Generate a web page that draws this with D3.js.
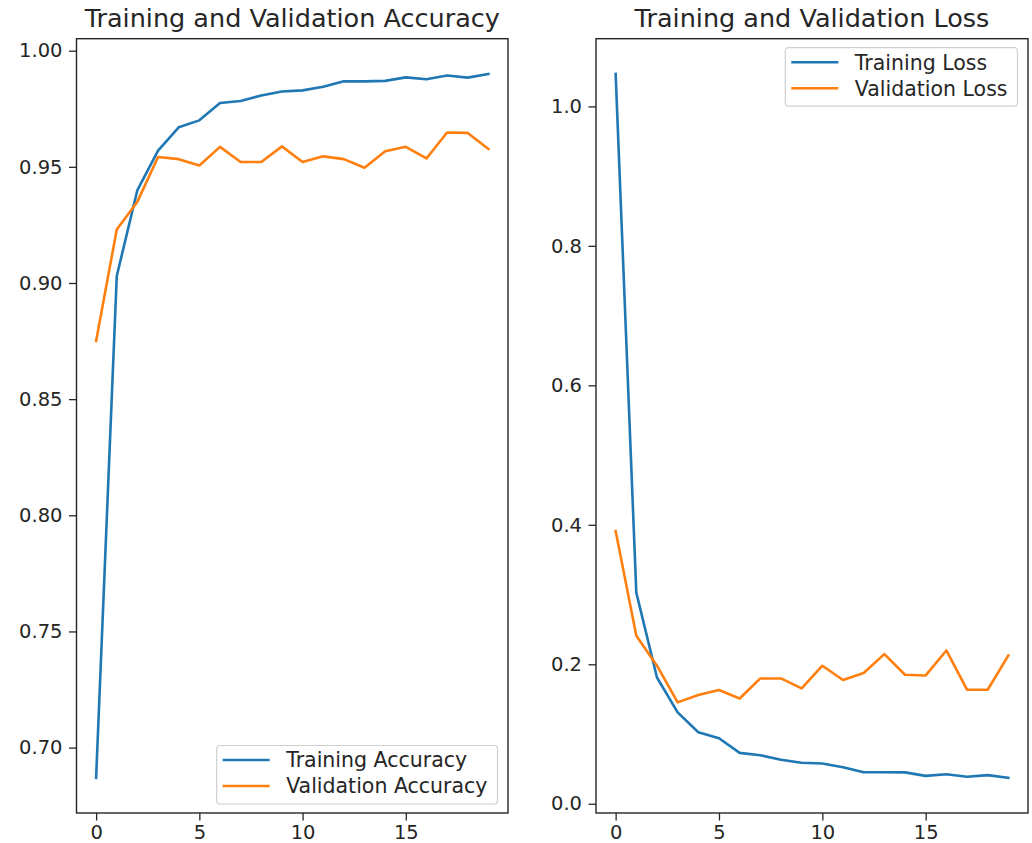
<!DOCTYPE html>
<html>
<head>
<meta charset="utf-8">
<script src="https://cdn.jsdelivr.net/npm/d3@7"></script>
<style>
    body { margin: 0; background: #fff; }
    svg text { font-family: "DejaVu Sans", sans-serif; fill: #262626; }
</style>
</head>
<body>
<div id="chart"></div>
<script>

// epochs and training history
var epochs = d3.range(0, 20);

var trainAcc = [0.687, 0.903, 0.940, 0.957, 0.967, 0.970, 0.9775, 0.9783, 0.9807, 0.9824,
    0.9829, 0.9845, 0.9868, 0.9868, 0.9870, 0.9885, 0.9877, 0.9893, 0.9884, 0.9900];
var valAcc = [0.875, 0.923, 0.935, 0.9542, 0.9533, 0.9506, 0.9586, 0.9521, 0.9521, 0.9588,
    0.9521, 0.9545, 0.9533, 0.9496, 0.9567, 0.9586, 0.9536, 0.9648, 0.9646, 0.9577];

var trainLoss = [1.0466, 0.3027, 0.181, 0.131, 0.1025, 0.0939, 0.073, 0.0696, 0.063, 0.0587,
    0.0577, 0.0524, 0.0452, 0.0452, 0.045, 0.040, 0.0424, 0.0386, 0.041, 0.0372];
var valLoss = [0.391, 0.2408, 0.198, 0.1454, 0.156, 0.163, 0.151, 0.1797, 0.1797, 0.1654,
    0.1979, 0.1774, 0.1874, 0.2146, 0.185, 0.184, 0.2198, 0.1635, 0.1635, 0.2126];

var xTicks = [0, 5, 10, 15];
var accTicks = [0.70, 0.75, 0.80, 0.85, 0.90, 0.95, 1.00];
var lossTicks = [0.0, 0.2, 0.4, 0.6, 0.8, 1.0];

var colors = { train: "#1f77b4", val: "#ff7f0e" };

var svg = d3.select("#chart").append("svg")
    .attr("width", 1032)
    .attr("height", 843);

// matplotlib style 5% padding on the data range
function padded(lo, hi) {
    var m = (hi - lo) * 0.05;
    return [lo - m, hi + m];
}

function drawPanel(opts) {

    var x = d3.scaleLinear()
        .domain(padded(0, epochs.length - 1))
        .range([opts.left, opts.right]);

    var all = opts.series[0].values.concat(opts.series[1].values);
    var y = d3.scaleLinear()
        .domain(padded(d3.min(all), d3.max(all)))
        .range([opts.bottom, opts.top]);

    var g = svg.append("g");

    // lines
    var line = d3.line()
        .x(function(d, i) { return x(epochs[i]); })
        .y(function(d) { return y(d); });

    opts.series.forEach(function(s) {
        g.append("path")
            .datum(s.values)
            .attr("fill", "none")
            .attr("stroke", s.color)
            .attr("stroke-width", 2.6)
            .attr("stroke-linejoin", "round")
            .attr("stroke-linecap", "square")
            .attr("d", line);
    });

    // axes
    var xAxis = g.append("g")
        .attr("transform", "translate(0," + opts.bottom + ")")
        .call(d3.axisBottom(x).tickValues(xTicks).tickSize(7.5).tickPadding(4.5).tickFormat(d3.format("d")));

    var yAxis = g.append("g")
        .attr("transform", "translate(" + opts.left + ",0)")
        .call(d3.axisLeft(y).tickValues(opts.yTicks).tickSize(7.5).tickPadding(6.5).tickFormat(d3.format(opts.yFormat)));

    [xAxis, yAxis].forEach(function(a) {
        a.select(".domain").remove();
        a.selectAll(".tick line").attr("stroke", "#262626").attr("stroke-width", 1.3);
        a.selectAll(".tick text")
            .attr("fill", "#262626")
            .style("font-size", "19.5px");
    });

    // frame
    g.append("rect")
        .attr("x", opts.left)
        .attr("y", opts.top)
        .attr("width", opts.right - opts.left)
        .attr("height", opts.bottom - opts.top)
        .attr("fill", "none")
        .attr("stroke", "#262626")
        .attr("stroke-width", 1.4);

    // title
    g.append("text")
        .attr("x", (opts.left + opts.right) / 2)
        .attr("y", opts.top - 11.5)
        .attr("text-anchor", "middle")
        .style("font-size", "25.5px")
        .text(opts.title);

    // legend
    var leg = g.append("g");
    var box = leg.append("rect")
        .attr("fill", "#fff")
        .attr("fill-opacity", 0.8)
        .attr("stroke", "#d0d0d0")
        .attr("stroke-width", 1.2)
        .attr("rx", 3);

    var maxLen = 0;
    opts.series.forEach(function(s, i) {
        var cy = 14.5 + i * 26;
        leg.append("line")
            .attr("x1", 6).attr("x2", 53)
            .attr("y1", cy).attr("y2", cy)
            .attr("stroke", s.color)
            .attr("stroke-width", 2.6);
        var t = leg.append("text")
            .attr("x", 69.5)
            .attr("y", cy)
            .attr("dy", "0.36em")
            .style("font-size", "20.5px")
            .text(s.label);
        maxLen = Math.max(maxLen, t.node().getComputedTextLength());
    });

    var w = 69.5 + maxLen + 10;
    var h = 58.5;
    box.attr("width", w).attr("height", h);

    var lx = opts.right - 10.5 - w;
    var ly = opts.legend === "lower right" ? opts.bottom - 9 - h : opts.top + 9;
    leg.attr("transform", "translate(" + lx + "," + ly + ")");
}

drawPanel({
    left: 76.5, right: 508, top: 38.7, bottom: 813,
    title: "Training and Validation Accuracy",
    yTicks: accTicks, yFormat: ".2f",
    legend: "lower right",
    series: [
        { label: "Training Accuracy", values: trainAcc, color: colors.train },
        { label: "Validation Accuracy", values: valAcc, color: colors.val }
    ]
});

drawPanel({
    left: 596, right: 1028, top: 38.7, bottom: 813,
    title: "Training and Validation Loss",
    yTicks: lossTicks, yFormat: ".1f",
    legend: "upper right",
    series: [
        { label: "Training Loss", values: trainLoss, color: colors.train },
        { label: "Validation Loss", values: valLoss, color: colors.val }
    ]
});

</script>
</body>
</html>
